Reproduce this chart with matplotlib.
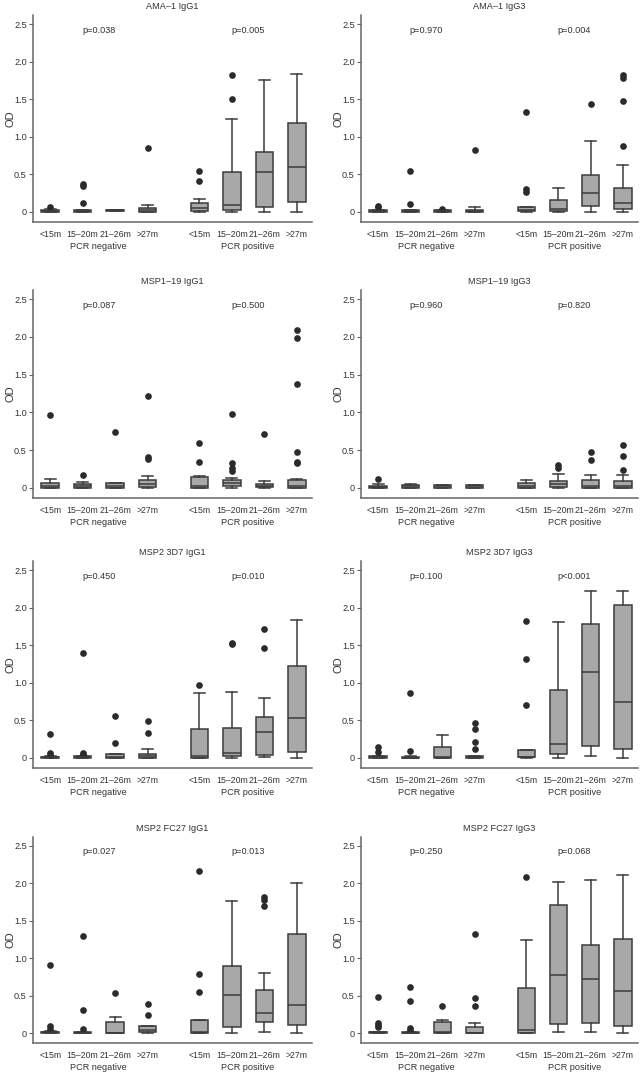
"""OD by age group and PCR status: 4x2 boxplot grid."""
import matplotlib
matplotlib.use("Agg")
import matplotlib.pyplot as plt
from matplotlib.transforms import blended_transform_factory

plt.rcParams["font.family"] = ["Liberation Sans", "DejaVu Sans"]

age_groups = ["<15m", "15\u201320m", "21\u201326m", ">27m"]
pcr_groups = ["PCR negative", "PCR positive"]
titles = ["AMA\u20131 IgG1", "AMA\u20131 IgG3",
          "MSP1\u201319 IgG1", "MSP1\u201319 IgG3",
          "MSP2 3D7 IgG1", "MSP2 3D7 IgG3",
          "MSP2 FC27 IgG1", "MSP2 FC27 IgG3"]
p_neg = ["p=0.038", "p=0.970", "p=0.087", "p=0.960",
         "p=0.450", "p=0.100", "p=0.027", "p=0.250"]
p_pos = ["p=0.005", "p=0.004", "p=0.500", "p=0.820",
         "p=0.010", "p<0.001", "p=0.013", "p=0.068"]

# per panel: 8 boxes (4 PCR negative, then 4 PCR positive)
q1 = [
    [0.00, 0.00, 0.01, 0.00, 0.01, 0.03, 0.06, 0.13],
    [0.00, 0.00, 0.00, 0.00, 0.01, 0.01, 0.08, 0.04],
    [0.00, 0.00, 0.00, 0.01, 0.00, 0.02, 0.01, 0.00],
    [0.00, 0.00, 0.00, 0.00, 0.00, 0.01, 0.00, 0.00],
    [0.00, 0.00, 0.00, 0.00, 0.00, 0.02, 0.04, 0.08],
    [0.00, 0.00, 0.00, 0.00, 0.01, 0.05, 0.16, 0.12],
    [0.00, 0.00, 0.00, 0.01, 0.00, 0.08, 0.15, 0.11],
    [0.00, 0.00, 0.00, 0.00, 0.00, 0.12, 0.13, 0.09],
]
med = [
    [0.01, 0.01, 0.02, 0.02, 0.05, 0.09, 0.53, 0.60],
    [0.01, 0.01, 0.01, 0.01, 0.03, 0.04, 0.25, 0.12],
    [0.02, 0.03, 0.02, 0.05, 0.02, 0.07, 0.03, 0.02],
    [0.01, 0.02, 0.02, 0.02, 0.03, 0.05, 0.03, 0.03],
    [0.01, 0.01, 0.01, 0.02, 0.02, 0.07, 0.35, 0.53],
    [0.01, 0.00, 0.01, 0.01, 0.01, 0.18, 1.14, 0.74],
    [0.01, 0.00, 0.00, 0.04, 0.01, 0.51, 0.27, 0.37],
    [0.01, 0.00, 0.01, 0.00, 0.04, 0.78, 0.72, 0.56],
]
q3 = [
    [0.03, 0.03, 0.03, 0.05, 0.12, 0.53, 0.80, 1.19],
    [0.02, 0.03, 0.02, 0.02, 0.07, 0.16, 0.49, 0.32],
    [0.06, 0.05, 0.07, 0.11, 0.14, 0.11, 0.05, 0.10],
    [0.03, 0.04, 0.04, 0.04, 0.06, 0.09, 0.10, 0.09],
    [0.01, 0.02, 0.05, 0.05, 0.38, 0.40, 0.55, 1.22],
    [0.02, 0.01, 0.14, 0.02, 0.10, 0.91, 1.78, 2.04],
    [0.02, 0.01, 0.15, 0.09, 0.18, 0.89, 0.57, 1.32],
    [0.01, 0.01, 0.15, 0.08, 0.60, 1.71, 1.18, 1.26],
]
whis_lo = [
    [0.00, 0.00, 0.01, 0.00, 0.00, 0.00, 0.00, 0.00],
    [0.00, 0.00, 0.00, 0.00, 0.00, 0.00, 0.00, 0.00],
    [0.00, 0.00, 0.00, 0.00, 0.00, 0.00, 0.00, 0.00],
    [0.00, 0.00, 0.00, 0.00, 0.00, 0.00, 0.00, 0.00],
    [0.00, 0.00, 0.00, 0.00, 0.00, 0.00, 0.01, 0.00],
    [0.00, 0.00, 0.00, 0.00, 0.00, 0.00, 0.03, 0.00],
    [0.00, 0.00, 0.00, 0.00, 0.00, 0.00, 0.01, 0.00],
    [0.00, 0.00, 0.00, 0.00, 0.00, 0.01, 0.01, 0.00],
]
whis_hi = [
    [0.04, 0.03, 0.03, 0.09, 0.17, 1.24, 1.76, 1.84],
    [0.03, 0.03, 0.02, 0.06, 0.07, 0.32, 0.95, 0.63],
    [0.12, 0.08, 0.07, 0.16, 0.16, 0.13, 0.09, 0.12],
    [0.05, 0.05, 0.04, 0.04, 0.11, 0.18, 0.17, 0.17],
    [0.02, 0.03, 0.05, 0.12, 0.87, 0.88, 0.80, 1.84],
    [0.03, 0.02, 0.31, 0.03, 0.10, 1.81, 2.22, 2.22],
    [0.03, 0.02, 0.21, 0.09, 0.18, 1.76, 0.80, 2.01],
    [0.02, 0.02, 0.17, 0.13, 1.25, 2.02, 2.05, 2.11],
]
fliers = [
    [[0.07], [0.37, 0.34, 0.12], [], [0.85],
     [0.54, 0.41], [1.82, 1.50], [], []],
    [[0.08, 0.06], [0.54, 0.10], [0.04], [0.82],
     [1.33, 0.31, 0.27], [], [1.44], [1.82, 1.78, 1.48, 0.88]],
    [[0.97], [0.17], [0.74], [1.22, 0.41, 0.38],
     [0.60, 0.35], [0.98, 0.33, 0.27, 0.23], [0.72],
     [2.09, 1.99, 1.37, 0.48, 0.35, 0.33]],
    [[0.12], [], [], [],
     [], [0.31, 0.27], [0.47, 0.37], [0.57, 0.42, 0.24]],
    [[0.32, 0.06, 0.04], [1.40, 0.07, 0.05], [0.56, 0.20], [0.49, 0.33],
     [0.97], [1.53, 1.51], [1.71, 1.46], []],
    [[0.15, 0.08], [0.87, 0.09], [], [0.46, 0.39, 0.21, 0.12],
     [1.82, 1.31, 0.71], [], [], []],
    [[0.91, 0.09, 0.06], [1.30, 0.31, 0.05], [0.53], [0.39, 0.24],
     [2.16, 0.79, 0.55], [], [1.82, 1.78, 1.70], []],
    [[0.48, 0.13, 0.11, 0.08], [0.61, 0.43, 0.07, 0.04], [0.36],
     [1.33, 0.47, 0.36],
     [2.09], [], [], []],
]

positions = [1, 2, 3, 4, 5.6, 6.6, 7.6, 8.6]
group_centers = [2.5, 7.1]
y_ticks = [0, 0.5, 1.0, 1.5, 2.0, 2.5]
y_ticklabels = ["0", "0.5", "1.0", "1.5", "2.0", "2.5"]

EDGE = "#3c3c3c"
FILL = "#a8a8a8"
TEXT = "#333333"
FS = 6.3

W, H = 640, 1072
fig = plt.figure(figsize=(W / 100, H / 100), dpi=100)

col_px = [(33, 312), (361, 638)]
row_px = [(15, 222), (290, 498), (561, 768), (837, 1043)]

for k in range(8):
    r, c = divmod(k, 2)
    x0, x1 = col_px[c]
    top, bot = row_px[r]
    ax = fig.add_axes([x0 / W, 1 - bot / H, (x1 - x0) / W, (bot - top) / H])

    stats = []
    for i in range(8):
        stats.append({"med": med[k][i], "q1": q1[k][i], "q3": q3[k][i],
                      "whislo": whis_lo[k][i], "whishi": whis_hi[k][i],
                      "fliers": fliers[k][i]})
    ax.bxp(stats, positions=positions, widths=0.54, capwidths=0.34,
           patch_artist=True, manage_ticks=False,
           boxprops=dict(facecolor=FILL, edgecolor=EDGE, linewidth=1.1),
           medianprops=dict(color=EDGE, linewidth=1.1),
           whiskerprops=dict(color=EDGE, linewidth=1.1),
           capprops=dict(color=EDGE, linewidth=1.1),
           flierprops=dict(marker="o", markerfacecolor="#2b2b2b",
                           markeredgecolor="#2b2b2b", markersize=3.8))

    ax.set_xlim(0.47, 9.07)
    ax.set_ylim(-0.133, 2.62)
    ax.set_yticks(y_ticks)
    ax.set_yticklabels(y_ticklabels)
    ax.set_xticks(positions)
    ax.set_xticklabels(age_groups * 2)
    ax.tick_params(axis="x", length=0, pad=6, labelsize=FS, labelcolor=TEXT)
    ax.tick_params(axis="y", length=3, width=0.8, pad=1.5, labelsize=6.6,
                   labelcolor=TEXT, color="#666666")
    for side in ("top", "right"):
        ax.spines[side].set_visible(False)
    for side in ("left", "bottom"):
        ax.spines[side].set_color("#666666")
        ax.spines[side].set_linewidth(1.1)

    ax.set_ylabel("OD", fontsize=8, color=TEXT)
    ax.yaxis.set_label_coords(-0.062, 0.5)
    ax.set_title(titles[k], fontsize=6.6, color=TEXT, pad=4)

    ax.text(group_centers[0], 2.42, p_neg[k], ha="center", va="center",
            fontsize=6.6, color=TEXT)
    ax.text(group_centers[1], 2.42, p_pos[k], ha="center", va="center",
            fontsize=6.6, color=TEXT)

    trans = blended_transform_factory(ax.transData, ax.transAxes)
    for gx, glab in zip(group_centers, pcr_groups):
        ax.text(gx, -0.118, glab, transform=trans, ha="center", va="center",
                fontsize=6.6, color=TEXT)

fig.savefig("out.png", dpi=100)
